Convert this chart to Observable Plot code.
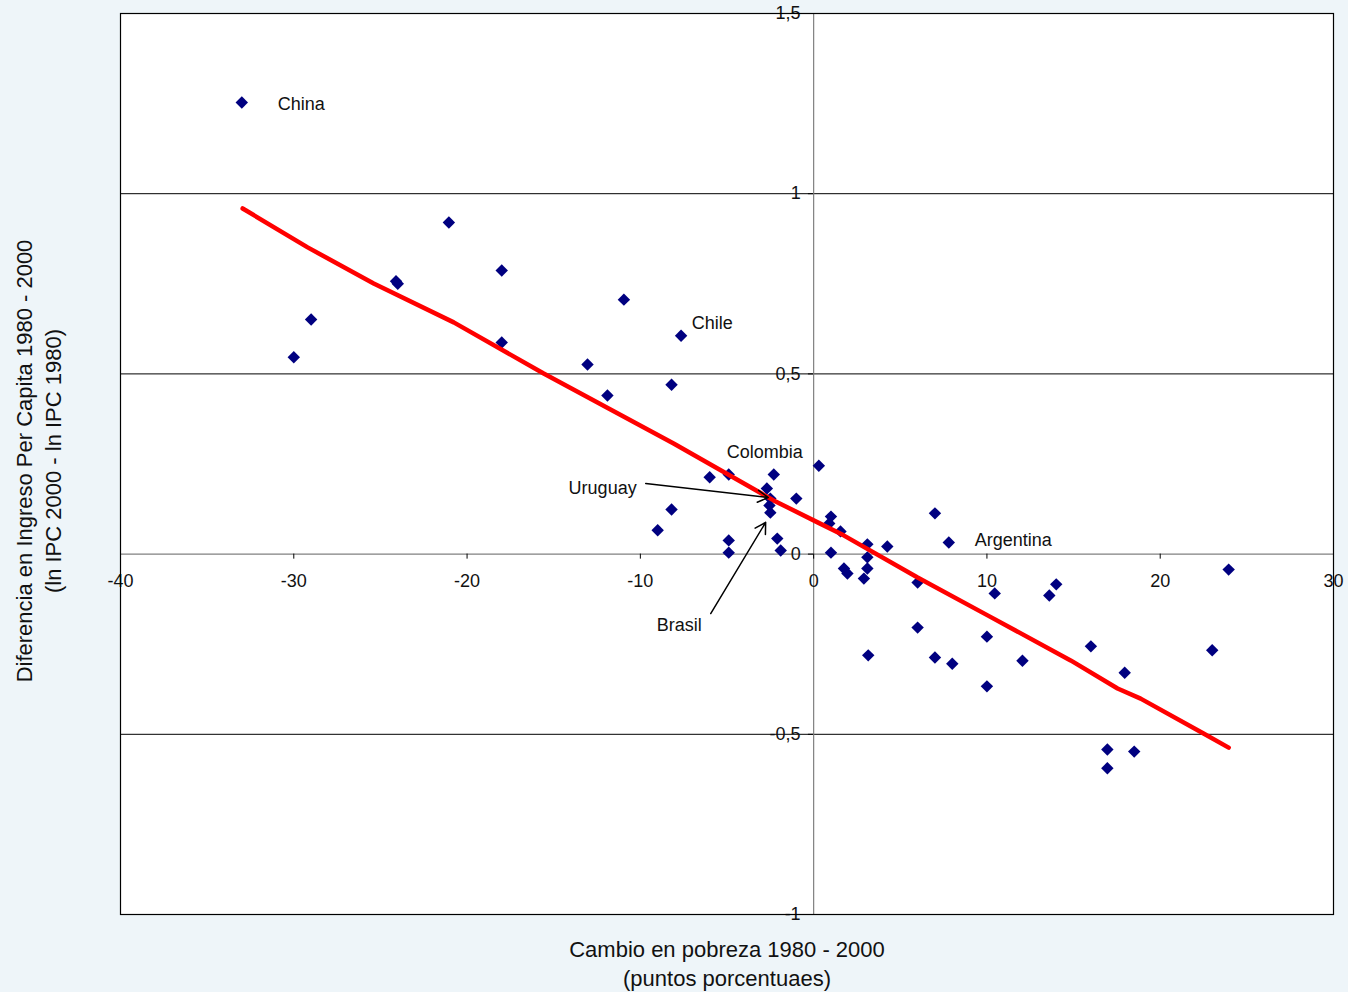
<!DOCTYPE html>
<html>
<head>
<meta charset="utf-8">
<script src="https://cdn.jsdelivr.net/npm/d3@7"></script>
<script src="https://cdn.jsdelivr.net/npm/@observablehq/plot@0.6"></script>
<style>
  html, body { margin: 0; padding: 0; background: #eef5f9; }
  #chart svg { display: block; }
</style>
</head>
<body>
<div id="chart"></div>
<script>
// Country scatter: change in poverty (x) vs. income difference (y)
const povertyChange = [-33.0,-30.0,-29.0,-24.1,-24.0,-21.05,-18.0,-18.0,-10.95,-7.65,-13.05,-11.9,-8.2,-6.0,-4.9,-2.3,-2.7,-2.5,-2.55,-2.5,-1.0,0.3,-9.0,-8.2,-4.9,-4.9,-2.1,-1.9,1.0,0.9,1.55,1.0,1.75,1.95,3.1,3.1,3.1,2.9,4.25,3.15,6.0,6.0,7.0,7.8,7.0,8.0,10.0,10.0,10.45,12.05,13.6,14.0,16.0,17.95,16.95,18.5,16.95,23.0,23.95];
const incomeDiff = [1.253,0.546,0.651,0.757,0.750,0.920,0.787,0.587,0.706,0.606,0.526,0.440,0.470,0.213,0.221,0.221,0.182,0.154,0.135,0.115,0.154,0.245,0.066,0.124,0.038,0.004,0.043,0.010,0.104,0.085,0.063,0.004,-0.040,-0.054,0.027,-0.009,-0.040,-0.068,0.021,-0.281,-0.079,-0.204,0.113,0.032,-0.287,-0.304,-0.229,-0.367,-0.109,-0.296,-0.115,-0.084,-0.256,-0.329,-0.542,-0.548,-0.594,-0.267,-0.043];

// Fitted (red) line
const fitX = [-32.95,-29.2,-25.39,-20.77,-15.58,-8.08,-2.31,0.23,1.73,6.0,10.04,14.83,17.54,18.87,22.5,23.95];
const fitY = [0.959,0.851,0.751,0.643,0.501,0.307,0.149,0.088,0.052,-0.065,-0.170,-0.295,-0.373,-0.401,-0.498,-0.537];

// Country labels
const labelNames = ["China","Chile","Colombia","Argentina","Uruguay","Brasil"];
const labelX = [-30.93,-7.04,-5.02,9.29,-14.14,-9.06];
const labelY = [1.2475,0.6404,0.283,0.0377,0.182,-0.1987];

// Arrows (Uruguay, Brasil)
const arrowX1 = [-9.69,-5.94];
const arrowY1 = [0.196,-0.165];
const arrowX2 = [-2.62,-2.77];
const arrowY2 = [0.157,0.088];

// Ticks
const xTicks = [-40,-30,-20,-10,0,10,20,30];
const yTicks = [1.5,1,0.5,0,-0.5,-1];
const gridY = [1,0.5,-0.5];

const fmt = d => String(d).replace(".", ",");

const points = povertyChange.map((x, i) => ({x, y: incomeDiff[i]}));
const fit = fitX.map((x, i) => ({x, y: fitY[i]}));
const labels = labelNames.map((t, i) => ({t, x: labelX[i], y: labelY[i]}));
const arrows = arrowX1.map((x1, i) => ({x1, y1: arrowY1[i], x2: arrowX2[i], y2: arrowY2[i]}));

const font = "'Liberation Sans', Arial, sans-serif";

const chart = Plot.plot({
  width: 1348,
  height: 992,
  marginLeft: 120,
  marginRight: 15,
  marginTop: 13,
  marginBottom: 78,
  x: {domain: [-40, 30], axis: null},
  y: {domain: [-1, 1.5], axis: null},
  style: {background: "transparent", fontFamily: font},
  marks: [
    Plot.frame({fill: "white", stroke: "none"}),
    Plot.ruleY(gridY, {stroke: "black", strokeWidth: 1}),
    Plot.ruleY([0], {stroke: "#808080", strokeWidth: 1.2}),
    Plot.ruleX([0], {stroke: "#808080", strokeWidth: 1.2}),
    // tick marks
    Plot.ruleX(xTicks, {x: d => d, y1: 0, y2: -0.014, stroke: "black"}),
    Plot.ruleY(yTicks, {y: d => d, x1: 0, x2: -0.3, stroke: "black"}),
    // tick labels
    Plot.text(xTicks, {x: d => d, y: 0, text: fmt, dy: 27, fontSize: 18, fill: "#111", textAnchor: "middle"}),
    Plot.text(yTicks, {x: 0, y: d => d, text: fmt, dx: -13, fontSize: 18, fill: "#111", textAnchor: "end"}),
    // data
    Plot.dot(points, {x: "x", y: "y", symbol: "diamond2", r: 5.6, fill: "#000080", stroke: "none"}),
    Plot.line(fit, {x: "x", y: "y", stroke: "#ff0000", strokeWidth: 4.5, strokeLinejoin: "round", strokeLinecap: "round"}),
    Plot.text(labels, {x: "x", y: "y", text: "t", textAnchor: "start", fontSize: 18, fill: "#111"}),
    Plot.arrow(arrows, {x1: "x1", y1: "y1", x2: "x2", y2: "y2", stroke: "black", strokeWidth: 1.5, headLength: 12}),
    Plot.frame({stroke: "black", strokeWidth: 1.2}),
    // axis titles
    Plot.text(["Cambio en pobreza 1980 - 2000"], {frameAnchor: "bottom", dy: 42, fontSize: 22, fill: "#111", textAnchor: "middle"}),
    Plot.text(["(puntos porcentuaes)"], {frameAnchor: "bottom", dy: 71, fontSize: 22, fill: "#111", textAnchor: "middle"}),
    Plot.text(["Diferencia en Ingreso Per Capita 1980 - 2000"], {frameAnchor: "left", dx: -96, dy: -3, rotate: -90, fontSize: 22, fill: "#111", textAnchor: "middle"}),
    Plot.text(["(ln IPC 2000 - ln IPC 1980)"], {frameAnchor: "left", dx: -67, dy: -3, rotate: -90, fontSize: 22, fill: "#111", textAnchor: "middle"})
  ]
});
document.getElementById("chart").appendChild(chart);
</script>
</body>
</html>
